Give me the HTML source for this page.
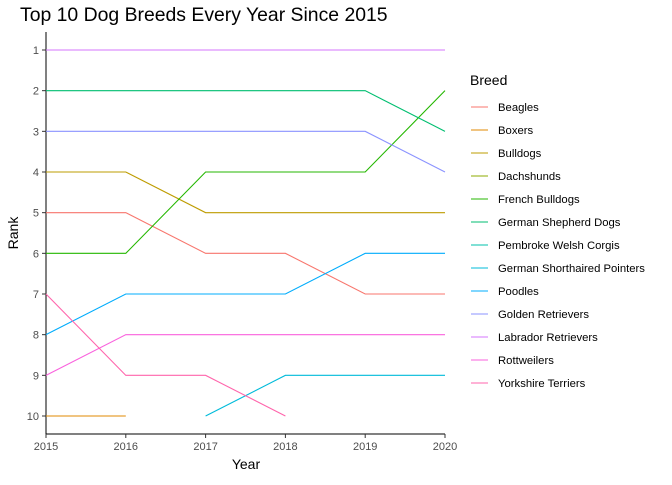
<!DOCTYPE html>
<html><head><meta charset="utf-8"><style>
body{margin:0;background:#fff;}
svg{font-family:"Liberation Sans",sans-serif;}
</style></head><body>
<svg width="672" height="480" id="c"></svg>
<script>
const years=[2015,2016,2017,2018,2019,2020];
const breeds=["Beagles","Boxers","Bulldogs","Dachshunds","French Bulldogs","German Shepherd Dogs","Pembroke Welsh Corgis","German Shorthaired Pointers","Poodles","Golden Retrievers","Labrador Retrievers","Rottweilers","Yorkshire Terriers"];
const colors=["#F8766D","#E18A00","#BE9C00","#8CAB00","#24B700","#00BE70","#00C1AB","#00BBDA","#00ACFC","#8B93FF","#D575FE","#F962DD","#FF65AC"];
const ranks=[
[5,5,6,6,7,7],
[10,10,null,null,null,null],
[4,4,5,5,5,5],
[null,null,null,null,null,null],
[6,6,4,4,4,2],
[2,2,2,2,2,3],
[null,null,null,null,null,null],
[null,null,10,9,9,9],
[8,7,7,7,6,6],
[3,3,3,3,3,4],
[1,1,1,1,1,1],
[9,8,8,8,8,8],
[7,9,9,10,null,null]];
const rankTicks=[1,2,3,4,5,6,7,8,9,10];
const NS="http://www.w3.org/2000/svg";
const svg=document.getElementById('c');
function mk(t,a,p){const e=document.createElementNS(NS,t);for(const k in a)e.setAttribute(k,a[k]);(p||svg).appendChild(e);return e;}
const x=v=>46+(v-2015)*(445-46)/5;
const y=r=>50+(r-1)*(416-50)/9;
let t=mk('text',{x:20,y:21,'font-size':19.4,fill:'#000'});t.textContent="Top 10 Dog Breeds Every Year Since 2015";

let ax=mk('line',{x1:46,y1:32,x2:46,y2:434,stroke:'#000','stroke-width':1});

let bx=mk('line',{x1:46,y1:434,x2:445,y2:434,stroke:'#000','stroke-width':1});

rankTicks.forEach(r=>{
 mk('line',{x1:42,x2:46,y1:y(r),y2:y(r),stroke:'#333'});
 const l=mk('text',{x:39,y:y(r)+4,'font-size':11,fill:'#4d4d4d','text-anchor':'end'});l.textContent=r;
 
});
years.forEach(v=>{
 mk('line',{x1:x(v),x2:x(v),y1:434,y2:438,stroke:'#333'});
 const l=mk('text',{x:x(v),y:450,'font-size':11,fill:'#4d4d4d','text-anchor':'middle'});l.textContent=v;
 
});
let xt=mk('text',{x:246,y:469,'font-size':14,'text-anchor':'middle'});xt.textContent="Year";

let yt=mk('text',{x:0,y:0,'font-size':14,'text-anchor':'middle',transform:'translate(18,233) rotate(-90)'});yt.textContent="Rank";

breeds.forEach((b,i)=>{
 const pts=[];ranks[i].forEach((r,j)=>{if(r!=null)pts.push(x(years[j])+','+y(r));});
 if(pts.length>1){const p=mk('polyline',{points:pts.join(' '),fill:'none',stroke:colors[i],'stroke-width':1.1});
 }
});
let lt=mk('text',{x:470,y:85,'font-size':14});lt.textContent="Breed";

breeds.forEach((b,i)=>{
 const g=mk('g',{});
 
 const yy=107+i*23;
 mk('line',{x1:471,x2:488,y1:yy,y2:yy,stroke:colors[i],'stroke-width':1.1},g);
 const l=mk('text',{x:498,y:yy+4,'font-size':11.3},g);l.textContent=b;
});
</script>
</body></html>
